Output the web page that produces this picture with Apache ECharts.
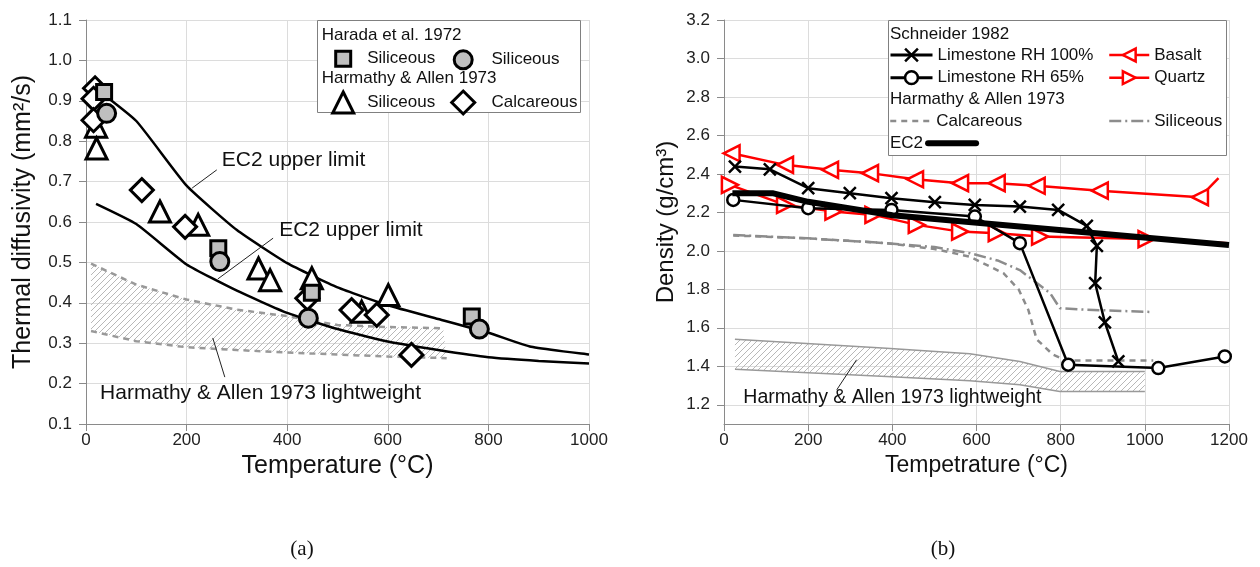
<!DOCTYPE html>
<html><head><meta charset="utf-8">
<script src="https://cdn.jsdelivr.net/npm/echarts@6/dist/echarts.min.js"></script>
<style>html,body{margin:0;padding:0;background:#fff}#c{width:1260px;height:567px}</style>
</head><body><div id="c"></div>
<script>
// ---------- Chart (a): thermal diffusivity ----------
const ec2UpperA = [[20,0.93],[100,0.85],[200,0.69],[300,0.58],[400,0.498],[500,0.438],[600,0.394],[700,0.36],[800,0.326],[885,0.291],[1000,0.272]];
const ec2LowerA = [[20,0.645],[100,0.595],[200,0.495],[300,0.43],[400,0.375],[500,0.335],[600,0.304],[700,0.283],[800,0.265],[900,0.256],[1000,0.25]];
const lwUpperA = [[10,0.497],[100,0.445],[200,0.408],[300,0.383],[400,0.367],[500,0.345],[600,0.340],[710,0.337]];
const lwLowerA = [[10,0.330],[100,0.305],[200,0.290],[300,0.283],[440,0.275],[600,0.267],[717,0.263]];
const haradaSquare = [[36,0.922],[263,0.535],[449,0.425],[767,0.366]];
const haradaCircle = [[41,0.869],[266,0.502],[442,0.362],[782,0.335]];
const harmathyTri = [[20,0.836],[21,0.782],[147,0.626],[223,0.593],[343,0.485],[366,0.456],[449,0.461],[548,0.378],[601,0.419]];
const harmathyDia = [[18,0.931],[15,0.905],[15,0.852],[111,0.679],[197,0.588],[440,0.411],[528,0.382],[578,0.370],[647,0.271]];

// ---------- Chart (b): density ----------
const basalt = [[18,2.507],[145,2.447],[252,2.421],[347,2.404],[454,2.372],[561,2.352],[648,2.352],[743,2.338],[893,2.313],[1131,2.279],[1175,2.378]];
const quartz = [[14,2.343],[145,2.239],[260,2.204],[355,2.187],[458,2.135],[561,2.100],[648,2.092],[751,2.074],[1004,2.061],[1198,2.040]];
const lime100 = [[26,2.438],[109,2.424],[200,2.326],[299,2.300],[398,2.274],[501,2.253],[596,2.239],[703,2.230],[794,2.213],[862,2.130],[886,2.026],[882,1.832],[905,1.628],[937,1.425]];
const lime65 = [[22,2.265],[200,2.222],[398,2.213],[596,2.178],[703,2.040],[818,1.408],[1032,1.391],[1190,1.451]];
const ec2Density = [[20,2.30],[115,2.30],[200,2.255],[400,2.185],[1200,2.03]];
const haCalc = [[22,2.08],[200,2.065],[386,2.04],[500,2.01],[584,1.97],[664,1.884],[700,1.80],[723,1.694],[743,1.54],[782,1.46],[814,1.43],[1020,1.43]];
const haSil = [[22,2.083],[200,2.065],[386,2.04],[500,2.02],[584,1.988],[650,1.95],[703,1.90],[775,1.78],[798,1.702],[862,1.694],[1020,1.682]];
const lwUpperB = [[26,1.541],[386,1.494],[584,1.465],[703,1.425],[798,1.373],[1000,1.373]];
const lwLowerB = [[26,1.385],[386,1.347],[584,1.325],[703,1.304],[798,1.269],[1000,1.269]];

const yTicksB = [1.2,1.4,1.6,1.8,2.0,2.2,2.4,2.6,2.8,3.0,3.2];

const FONT = 'Liberation Sans, Arial, sans-serif';

// hatch pattern
const hc = document.createElement('canvas'); hc.width = 6; hc.height = 6;
const g = hc.getContext('2d'); g.strokeStyle = '#b8b8b8'; g.lineWidth = 1;
g.beginPath(); g.moveTo(0,6); g.lineTo(6,0); g.moveTo(-1,1); g.lineTo(1,-1); g.moveTo(5,7); g.lineTo(7,5); g.stroke();
const hatch = {image: hc, repeat: 'repeat'};

function band(xi, upper, lower) {
  return {
    type: 'custom', xAxisIndex: xi, yAxisIndex: xi, silent: true, z: 1,
    data: [upper[0]],
    renderItem: function (params, api) {
      const pts = upper.map(p => api.coord(p)).concat(lower.slice().reverse().map(p => api.coord(p)));
      return {type: 'polygon', shape: {points: pts}, style: {fill: hatch, stroke: null}};
    }
  };
}

const names = {
  sq: 'Siliceous', ci: 'Siliceous', tr: 'Siliceous', di: 'Calcareous',
  l100: 'Limestone RH 100%', l65: 'Limestone RH 65%', bas: 'Basalt', qua: 'Quartz',
  hac: 'Calcareous', has: 'Siliceous', ec2: 'EC2'
};

function axisCommon(titleSize) {
  return {
    axisLine: {show: true, onZero: false, lineStyle: {color: '#8a8a8a', width: 1}},
    axisTick: {show: true, length: 7, lineStyle: {color: '#8a8a8a'}},
    splitLine: {show: true, lineStyle: {color: '#dcdcdc', width: 1}},
    axisLabel: {fontSize: 17, color: '#222', fontFamily: FONT, formatter: v => String(v)},
    nameTextStyle: {fontSize: titleSize, color: '#111', fontFamily: FONT},
    nameLocation: 'middle'
  };
}

// symbol legend item: square icon box, text shifted with padding
function legendSym(key, cx, cy, size, textX) {
  const left = cx - size / 2;
  return {
    data: [key], left: left, top: cy - Math.max(size, 17) / 2, padding: 0,
    itemWidth: size, itemHeight: size, selectedMode: false,
    itemStyle: {borderWidth: 3},
    formatter: n => names[n],
    textStyle: {fontSize: 17, color: '#111', fontFamily: FONT, padding: [0, 0, 0, textX - (left + size + 5)]}
  };
}
function legendLine(key, left, cy, w, h, extra) {
  return Object.assign({
    data: [key], left: left, top: cy - Math.max(h, 17) / 2, padding: 0,
    itemWidth: w, itemHeight: h, selectedMode: false,
    formatter: n => names[n],
    textStyle: {fontSize: 17, color: '#111', fontFamily: FONT}
  }, extra || {});
}

const mlStyle = {symbol: ['none','none'], silent: true, label: {show: false}, lineStyle: {color: '#222', width: 1, type: 'solid'}};

const option = {
  animation: false,
  textStyle: {fontFamily: FONT},
  grid: [
    {left: 86, top: 20, width: 503, height: 404},
    {left: 724, top: 20, width: 505, height: 404}
  ],
  xAxis: [
    Object.assign(axisCommon(25), {gridIndex: 0, type: 'value', min: 0, max: 1000, interval: 200, name: 'Temperature (°C)', nameGap: 30}),
    Object.assign(axisCommon(23), {gridIndex: 1, type: 'value', min: 0, max: 1200, interval: 200, name: 'Tempetrature (°C)', nameGap: 30})
  ],
  yAxis: [
    Object.assign(axisCommon(25), {gridIndex: 0, type: 'value', min: 0.1, max: 1.1, interval: 0.1, name: 'Thermal diffusivity (mm²/s)', nameGap: 50,
      axisLabel: {fontSize: 17, color: '#222', fontFamily: FONT, margin: 14, formatter: v => v.toFixed(1)}}),
    (function () {
      const a = Object.assign(axisCommon(24), {gridIndex: 1, type: 'value', min: 1.1, max: 3.2, name: 'Density (g/cm³)', nameGap: 46});
      a.axisTick = {show: true, length: 7, lineStyle: {color: '#8a8a8a'}, customValues: yTicksB};
      a.axisLabel = {fontSize: 17, color: '#222', fontFamily: FONT, margin: 14, customValues: yTicksB, formatter: v => v.toFixed(1)};
      return a;
    })()
  ],
  legend: [
    legendSym('sq', 341.7, 58.3, 15, 365.7),
    legendSym('ci', 461.7, 58.3, 18, 490),
    legendSym('tr', 341.7, 101, 21, 365.7),
    legendSym('di', 461.7, 101, 23, 490),
    legendLine('l100', 889, 55, 42, 16, {lineStyle: {width: 3}, itemStyle: {borderWidth: 2.5}}),
    legendLine('l65', 889, 77.7, 42, 16, {lineStyle: {width: 3}, itemStyle: {borderWidth: 2.5}}),
    legendLine('bas', 1108, 55, 40, 16, {lineStyle: {width: 2.5}, itemStyle: {borderWidth: 2.5}}),
    legendLine('qua', 1108, 77.7, 40, 16, {lineStyle: {width: 2.5}, itemStyle: {borderWidth: 2.5}}),
    legendLine('hac', 889, 121, 41, 14, {lineStyle: {width: 2.5}, itemStyle: {opacity: 0}}),
    legendLine('has', 1108, 121, 40, 14, {lineStyle: {width: 2.5}, itemStyle: {opacity: 0}}),
    legendLine('ec2', 890, 143.3, 48, 14, {align: 'right', lineStyle: {width: 6, cap: 'round'}, itemStyle: {opacity: 0}})
  ],
  graphic: [
    {type: 'rect', z: 3, shape: {x: 317.5, y: 20.5, width: 263, height: 92}, style: {fill: '#fff', stroke: '#808080', lineWidth: 1}},
    {type: 'text', z: 5, x: 321.7, y: 35.7, style: {text: 'Harada et al. 1972', fontSize: 17, fontFamily: FONT, fill: '#111', verticalAlign: 'middle'}},
    {type: 'text', z: 5, x: 321.7, y: 78.3, style: {text: 'Harmathy & Allen 1973', fontSize: 17, fontFamily: FONT, fill: '#111', verticalAlign: 'middle'}},
    {type: 'rect', z: 3, shape: {x: 888.5, y: 20.5, width: 338, height: 135}, style: {fill: '#fff', stroke: '#808080', lineWidth: 1}},
    {type: 'text', z: 5, x: 890, y: 34, style: {text: 'Schneider 1982', fontSize: 17, fontFamily: FONT, fill: '#111', verticalAlign: 'middle'}},
    {type: 'text', z: 5, x: 890, y: 99.3, style: {text: 'Harmathy & Allen 1973', fontSize: 17, fontFamily: FONT, fill: '#111', verticalAlign: 'middle'}},
    {type: 'text', z: 5, x: 302, y: 549, style: {text: '(a)', fontSize: 21, fontFamily: 'Liberation Serif, Times New Roman, serif', fill: '#111', align: 'center', verticalAlign: 'middle'}},
    {type: 'text', z: 5, x: 943, y: 549, style: {text: '(b)', fontSize: 21, fontFamily: 'Liberation Serif, Times New Roman, serif', fill: '#111', align: 'center', verticalAlign: 'middle'}}
  ],
  series: [
    // ----- chart a -----
    band(0, lwUpperA, lwLowerA),
    {type: 'line', xAxisIndex: 0, yAxisIndex: 0, data: lwUpperA, symbol: 'none', lineStyle: {color: '#999', width: 2.5, type: [6, 5]}, z: 2, silent: true},
    {type: 'line', xAxisIndex: 0, yAxisIndex: 0, data: lwLowerA, symbol: 'none', lineStyle: {color: '#999', width: 2.5, type: [6, 5]}, z: 2, silent: true,
      markLine: Object.assign({data: [[{coord: [276, 0.216]}, {coord: [252, 0.313]}]]}, mlStyle),
      markPoint: {symbol: 'circle', symbolSize: 0, silent: true, data: [{coord: [28, 0.177]}],
        label: {show: true, position: 'right', distance: 0, formatter: 'Harmathy & Allen 1973 lightweight', fontSize: 21, color: '#111', fontFamily: FONT}}},
    {type: 'line', xAxisIndex: 0, yAxisIndex: 0, data: ec2UpperA, symbol: 'none', smooth: 0.15, lineStyle: {color: '#000', width: 2.5}, z: 3, silent: true,
      markLine: Object.assign({data: [[{coord: [260, 0.729]}, {coord: [211, 0.684]}]]}, mlStyle),
      markPoint: {symbol: 'circle', symbolSize: 0, silent: true, data: [{coord: [270, 0.752]}],
        label: {show: true, position: 'right', distance: 0, formatter: 'EC2 upper limit', fontSize: 21, color: '#111', fontFamily: FONT}}},
    {type: 'line', xAxisIndex: 0, yAxisIndex: 0, data: ec2LowerA, symbol: 'none', smooth: 0.15, lineStyle: {color: '#000', width: 2.5}, z: 3, silent: true,
      markLine: Object.assign({data: [[{coord: [372, 0.560]}, {coord: [262, 0.459]}]]}, mlStyle),
      markPoint: {symbol: 'circle', symbolSize: 0, silent: true, data: [{coord: [384, 0.580]}],
        label: {show: true, position: 'right', distance: 0, formatter: 'EC2 upper limit', fontSize: 21, color: '#111', fontFamily: FONT}}},
    {name: 'tr', type: 'scatter', xAxisIndex: 0, yAxisIndex: 0, data: harmathyTri, symbol: 'triangle', symbolSize: 21, z: 4,
      itemStyle: {color: '#fff', borderColor: '#000', borderWidth: 3, opacity: 1}},
    {name: 'di', type: 'scatter', xAxisIndex: 0, yAxisIndex: 0, data: harmathyDia, symbol: 'diamond', symbolSize: 23, z: 4,
      itemStyle: {color: '#fff', borderColor: '#000', borderWidth: 3, opacity: 1}},
    {name: 'sq', type: 'scatter', xAxisIndex: 0, yAxisIndex: 0, data: haradaSquare, symbol: 'rect', symbolSize: 15, z: 5,
      itemStyle: {color: '#bfbfbf', borderColor: '#000', borderWidth: 3, opacity: 1}},
    {name: 'ci', type: 'scatter', xAxisIndex: 0, yAxisIndex: 0, data: haradaCircle, symbol: 'circle', symbolSize: 18, z: 5,
      itemStyle: {color: '#bfbfbf', borderColor: '#000', borderWidth: 3, opacity: 1}},

    // ----- chart b -----
    band(1, lwUpperB, lwLowerB),
    {type: 'line', xAxisIndex: 1, yAxisIndex: 1, data: lwUpperB, symbol: 'none', lineStyle: {color: '#999', width: 1.5}, z: 2, silent: true},
    {type: 'line', xAxisIndex: 1, yAxisIndex: 1, data: lwLowerB, symbol: 'none', lineStyle: {color: '#999', width: 1.5}, z: 2, silent: true,
      markLine: Object.assign({data: [[{coord: [268, 1.278]}, {coord: [315, 1.434]}]]}, mlStyle),
      markPoint: {symbol: 'circle', symbolSize: 0, silent: true, data: [{coord: [46, 1.235]}],
        label: {show: true, position: 'right', distance: 0, formatter: 'Harmathy & Allen 1973 lightweight', fontSize: 19.5, color: '#111', fontFamily: FONT}}},
    {name: 'hac', type: 'line', xAxisIndex: 1, yAxisIndex: 1, data: haCalc, symbol: 'none', lineStyle: {color: '#8c8c8c', width: 2.5, type: [6, 5]}, itemStyle: {color: '#8c8c8c'}, z: 2},
    {name: 'has', type: 'line', xAxisIndex: 1, yAxisIndex: 1, data: haSil, symbol: 'none', lineStyle: {color: '#8c8c8c', width: 2.5, type: [12, 4, 2, 4]}, itemStyle: {color: '#8c8c8c'}, z: 2},
    {name: 'bas', type: 'line', xAxisIndex: 1, yAxisIndex: 1,
      data: basalt.map((p, i) => i === basalt.length - 1 ? {value: p, symbol: 'none'} : p),
      symbol: 'triangle', symbolSize: 16, symbolRotate: 90, showAllSymbol: true,
      lineStyle: {color: '#ff0000', width: 2.5}, itemStyle: {color: '#fff', borderColor: '#ff0000', borderWidth: 2.5}, z: 3},
    {name: 'qua', type: 'line', xAxisIndex: 1, yAxisIndex: 1,
      data: quartz.map((p, i) => i === quartz.length - 1 ? {value: p, symbol: 'none'} : p),
      symbol: 'triangle', symbolSize: 16, symbolRotate: -90, showAllSymbol: true,
      lineStyle: {color: '#ff0000', width: 2.5}, itemStyle: {color: '#fff', borderColor: '#ff0000', borderWidth: 2.5}, z: 3},
    {name: 'l65', type: 'line', xAxisIndex: 1, yAxisIndex: 1, data: lime65, symbol: 'circle', symbolSize: 12, showAllSymbol: true,
      lineStyle: {color: '#000', width: 2.5}, itemStyle: {color: '#fff', borderColor: '#000', borderWidth: 2.5}, z: 4},
    {name: 'l100', type: 'line', xAxisIndex: 1, yAxisIndex: 1, data: lime100, symbol: 'path://M0,0L10,10M10,0L0,10', symbolSize: 12, showAllSymbol: true,
      lineStyle: {color: '#000', width: 2.5}, itemStyle: {color: '#000', borderColor: '#000', borderWidth: 2.5}, z: 4},
    {name: 'ec2', type: 'line', xAxisIndex: 1, yAxisIndex: 1, data: ec2Density, symbol: 'none',
      lineStyle: {color: '#000', width: 6}, itemStyle: {color: '#000'}, z: 5}
  ]
};

const chart = echarts.init(document.getElementById('c'), null, {renderer: 'canvas'});
chart.setOption(option);
</script>
</body></html>
